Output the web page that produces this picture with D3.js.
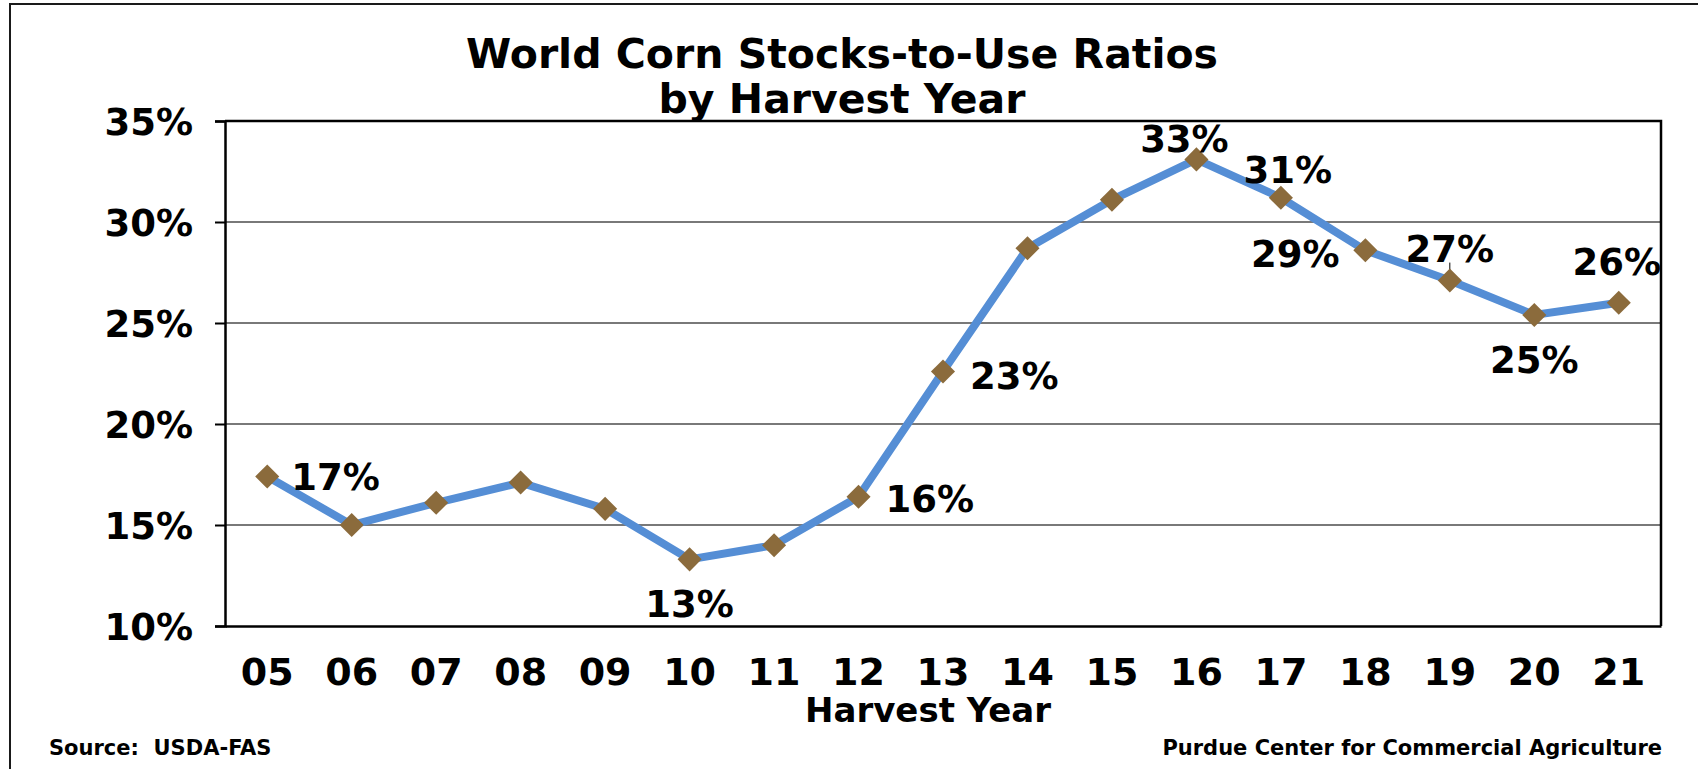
<!DOCTYPE html>
<html>
<head>
<meta charset="utf-8">
<script src="https://cdn.jsdelivr.net/npm/d3@7"></script>
<style>
  html, body { margin: 0; padding: 0; background: #fff; }
  svg { display: block; }
  text { font-family: "DejaVu Sans", Verdana, sans-serif; font-weight: bold; fill: #000; white-space: pre; }
</style>
</head>
<body>
<svg id="chart" width="1698" height="769"></svg>
<script>
// ---- data ----
const years = ["05","06","07","08","09","10","11","12","13","14","15","16","17","18","19","20","21"];
const ratios = [17.4, 15.0, 16.1, 17.1, 15.8, 13.3, 14.0, 16.4, 22.6, 28.7, 31.1, 33.1, 31.2, 28.6, 27.1, 25.4, 26.0];
const labeledYears = ["05","10","12","13","16","17","18","19","20","21"];
const yTicks = [10, 15, 20, 25, 30, 35];
const titleLines = ["World Corn Stocks-to-Use Ratios", "by Harvest Year"];
const xAxisTitle = "Harvest Year";
const sourceText = "Source:  USDA-FAS";
const creditText = "Purdue Center for Commercial Agriculture";

// label placement (styling, not data): offset from point
const labelOffset = {
  "05": { dx: 24, dy: 0, anchor: "start" },
  "10": { dx: 0, dy: 44, anchor: "middle" },
  "12": { dx: 27, dy: 2, anchor: "start" },
  "13": { dx: 27, dy: 4, anchor: "start" },
  "16": { dx: -12, dy: -21, anchor: "middle" },
  "17": { dx: 7, dy: -28, anchor: "middle" },
  "18": { dx: -70, dy: 3, anchor: "middle" },
  "19": { dx: 0, dy: -32, anchor: "middle" },
  "20": { dx: 0, dy: 45, anchor: "middle" },
  "21": { dx: -2, dy: -41, anchor: "middle" }
};

const svg = d3.select("#chart");
const W = 1698, H = 769;
const plot = { left: 225, right: 1661, top: 121, bottom: 626 };

// outer frame (only left/top visible in reference)
svg.append("rect").attr("x", 10).attr("y", 4).attr("width", W + 20).attr("height", H + 20)
  .attr("fill", "none").attr("stroke", "#1a1a1a").attr("stroke-width", 2);

const x = d3.scaleBand().domain(years).range([plot.left, plot.right]).paddingInner(0).paddingOuter(0);
const y = d3.scaleLinear().domain([10, 35]).range([plot.bottom, plot.top]);

// gridlines
svg.append("g").selectAll("line").data(yTicks.filter(t => t > 10 && t < 35)).join("line")
  .attr("x1", plot.left).attr("x2", plot.right)
  .attr("y1", d => y(d)).attr("y2", d => y(d))
  .attr("stroke", "#4d4d4d").attr("stroke-width", 1.3);

// plot border top/right
svg.append("path")
  .attr("d", `M${plot.left},${plot.top}H${plot.right}V${plot.bottom}`)
  .attr("fill", "none").attr("stroke", "#000").attr("stroke-width", 2.5);

// y axis
const yAxis = d3.axisLeft(y).tickValues(yTicks).tickSize(10).tickPadding(22).tickFormat(d => d + "%");
const gy = svg.append("g").attr("transform", `translate(${plot.left},0)`).call(yAxis);
gy.select(".domain").attr("stroke", "#000").attr("stroke-width", 2.5);
gy.selectAll(".tick line").attr("stroke", "#000").attr("stroke-width", 2);
gy.selectAll(".tick text").style("font-size", "37px").style("font-family", "'DejaVu Sans', sans-serif")
  .style("font-weight", "bold").attr("fill", "#000").attr("dy", "0.36em");

// x axis
const xAxis = d3.axisBottom(x).tickSize(0).tickPadding(32);
const gx = svg.append("g").attr("transform", `translate(0,${plot.bottom})`).call(xAxis);
gx.select(".domain").attr("stroke", "#000").attr("stroke-width", 2.5);
gx.selectAll(".tick text").style("font-size", "38px").style("font-family", "'DejaVu Sans', sans-serif")
  .style("font-weight", "bold").attr("fill", "#000");

// line
const pts = years.map((yr, i) => ({ yr, v: ratios[i] }));
const line = d3.line().x(d => x(d.yr) + x.bandwidth() / 2).y(d => y(d.v));
svg.append("path").datum(pts).attr("d", line)
  .attr("fill", "none").attr("stroke", "#558ED5").attr("stroke-width", 8).attr("stroke-linejoin", "miter");

// leader line for "27%"
const p19 = pts.find(d => d.yr === "19");
svg.append("line")
  .attr("x1", x("19") + x.bandwidth() / 2).attr("x2", x("19") + x.bandwidth() / 2)
  .attr("y1", y(p19.v) - 18).attr("y2", y(p19.v))
  .attr("stroke", "#000").attr("stroke-width", 1);

// diamond markers
const diamond = d3.symbol().type(d3.symbolSquare).size(290);
svg.append("g").selectAll("path").data(pts).join("path")
  .attr("d", diamond)
  .attr("transform", d => `translate(${x(d.yr) + x.bandwidth() / 2},${y(d.v)}) rotate(45)`)
  .attr("fill", "#8B6B3C");

// data labels
svg.append("g").selectAll("text").data(pts.filter(d => labeledYears.includes(d.yr))).join("text")
  .attr("x", d => x(d.yr) + x.bandwidth() / 2 + labelOffset[d.yr].dx)
  .attr("y", d => y(d.v) + labelOffset[d.yr].dy)
  .attr("dy", "0.36em")
  .attr("text-anchor", d => labelOffset[d.yr].anchor)
  .style("font-size", "37px")
  .text(d => Math.round(d.v) + "%");

// title
svg.append("g").selectAll("text").data(titleLines).join("text")
  .attr("x", 842).attr("y", (d, i) => 68 + i * 45)
  .attr("text-anchor", "middle")
  .style("font-size", "41px")
  .text(d => d);

// x axis title
svg.append("text").attr("x", 928).attr("y", 722).attr("text-anchor", "middle")
  .style("font-size", "34px").text(xAxisTitle);

// footer
svg.append("text").attr("x", 49).attr("y", 755).style("font-size", "21px").text(sourceText);
svg.append("text").attr("x", 1662).attr("y", 755).attr("text-anchor", "end").style("font-size", "21px").text(creditText);
</script>
</body>
</html>
